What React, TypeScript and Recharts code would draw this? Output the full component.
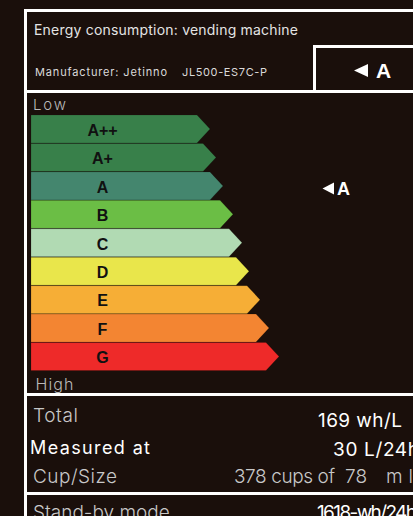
import { BarChart, Bar, XAxis, YAxis, LabelList } from 'recharts';

// energy classes, top (low consumption) to bottom (high)
const grades = ['A++', 'A+', 'A', 'B', 'C', 'D', 'E', 'F', 'G'];
// arrow length incl. tip, in px of the chart's x scale
const barLengths = [179, 185, 192, 202, 211, 218, 229, 238, 248];
const barColors = ['#38804a', '#38804a', '#44866e', '#6bbe45', '#b1dab3', '#e9e64b', '#f6ae36', '#f38532', '#ee2a29'];
const rating = 'A';

const BG = '#1a0f0b';
const FONT = 'Inter, "Open Sans", sans-serif';

const data = grades.map((g, i) => ({ grade: g, len: barLengths[i], color: barColors[i] }));

const ArrowBar = (props: any) => {
    const { x, y, width, height, payload } = props;
    const tip = 13;
    const body = width - tip;
    const d = `M${x},${y} L${x + body},${y} L${x + width},${y + height / 2} L${x + body},${y + height} L${x},${y + height} Z`;
    const isRated = payload.grade === rating;
    const cy = y + height / 2 + 2.5;
    return (
        <g>
            <path d={d} fill={payload.color} stroke="rgba(0,0,0,0.18)" strokeWidth={0.8} />
            {isRated && (
                <g>
                    <polygon points={`${x + 291.5},${cy} ${x + 303},${cy - 6} ${x + 303},${cy + 6}`} fill="#fff" />
                    <text x={x + 306} y={cy + 6.3} fill="#fff" fontFamily='"Liberation Sans", Arial, sans-serif' fontWeight="bold" fontSize={18}>
                        {rating}
                    </text>
                </g>
            )}
        </g>
    );
};

const GradeLabel = (props: any) => {
    const { x, y, height, value } = props;
    return (
        <text
            x={x + 71.5}
            y={y + height / 2 + 6.8}
            textAnchor="middle"
            fill="#111"
            fontFamily='"Liberation Sans", Arial, sans-serif'
            fontWeight="bold"
            fontSize={16}
        >
            {value}
        </text>
    );
};

const W = '#fff';

export default function App() {
    return (
        <div style={{ position: 'fixed', left: 0, top: 0, width: 413, height: 516, background: BG, overflow: 'hidden' }}>
            <svg width={413} height={516} style={{ position: 'absolute', left: 0, top: 0 }}>
                {/* frame */}
                <rect x={24} y={9} width={3} height={507} fill={W} />
                <rect x={24} y={9} width={389} height={3} fill={W} />
                <rect x={24} y={90} width={389} height={3} fill={W} />
                <rect x={313} y={45} width={3} height={48} fill={W} />
                <rect x={313} y={45} width={100} height={3} fill={W} />
                <rect x={24} y={393} width={389} height={3} fill={W} />
                <rect x={24} y={492} width={389} height={3} fill={W} />

                <g fontFamily={FONT}>
                    <text x={34} y={35} fill="#e4e4e4" fontSize={14} textLength={264} lengthAdjust="spacing">
                        Energy consumption: vending machine
                    </text>
                    <text x={35} y={76} fill="#dadada" fontSize={11} textLength={132} lengthAdjust="spacing">
                        Manufacturer: Jetinno
                    </text>
                    <text x={182} y={76} fill="#dadada" fontSize={11} textLength={85} lengthAdjust="spacing">
                        JL500-ES7C-P
                    </text>

                    {/* rating box */}
                    <polygon points="354,70.5 368,64 368,77" fill="#fff" />
                    <text x={376} y={78} fill="#fff" fontFamily='"Liberation Sans", Arial, sans-serif' fontWeight="bold" fontSize={21}>
                        {rating}
                    </text>

                    <text x={33} y={110} fill="#b9b9b9" fontSize={15} fontWeight={300} textLength={33} lengthAdjust="spacing">
                        Low
                    </text>
                    <text x={35.5} y={390} fill="#b9b9b9" fontSize={16} fontWeight={300} textLength={38} lengthAdjust="spacing">
                        High
                    </text>

                    <text x={33} y={422} fill="#c8c8c8" fontSize={19} fontWeight={300} textLength={45} lengthAdjust="spacing">
                        Total
                    </text>
                    <text x={318} y={427} fill="#fff" fontSize={19} textLength={84} lengthAdjust="spacing">
                        169 wh/L
                    </text>
                    <text x={30} y={454} fill="#fff" fontSize={18} textLength={120} lengthAdjust="spacing">
                        Measured at
                    </text>
                    <text x={333} y={456} fill="#fff" fontSize={19} textLength={86} lengthAdjust="spacing">
                        30 L/24h
                    </text>
                    <text x={33} y={483} fill="#c8c8c8" fontSize={19} fontWeight={300} textLength={84} lengthAdjust="spacing">
                        Cup/Size
                    </text>
                    <text x={234} y={483} fill="#c8c8c8" fontSize={19} fontWeight={300} textLength={101} lengthAdjust="spacing">
                        378 cups of
                    </text>
                    <text x={345} y={483} fill="#c8c8c8" fontSize={19} fontWeight={300} textLength={22} lengthAdjust="spacing">
                        78
                    </text>
                    <text x={386} y={483} fill="#c8c8c8" fontSize={19} fontWeight={300} letterSpacing={6}>
                        ml
                    </text>
                    <text x={33} y={519} fill="#c8c8c8" fontSize={19} fontWeight={300}>
                        Stand-by mode
                    </text>
                    <text x={317} y={519} fill="#fff" fontSize={19} textLength={100} lengthAdjust="spacing">
                        1618-wh/24h
                    </text>
                </g>
            </svg>

            <div style={{ position: 'absolute', left: 31, top: 115 }}>
                <BarChart
                    width={382}
                    height={256}
                    data={data}
                    layout="vertical"
                    margin={{ top: 0, right: 0, bottom: 0, left: 0 }}
                    barCategoryGap={0}
                >
                    <XAxis type="number" domain={[0, 382]} hide />
                    <YAxis type="category" dataKey="grade" hide />
                    <Bar dataKey="len" shape={<ArrowBar />} isAnimationActive={false}>
                        <LabelList dataKey="grade" content={<GradeLabel />} />
                    </Bar>
                </BarChart>
            </div>
        </div>
    );
}
